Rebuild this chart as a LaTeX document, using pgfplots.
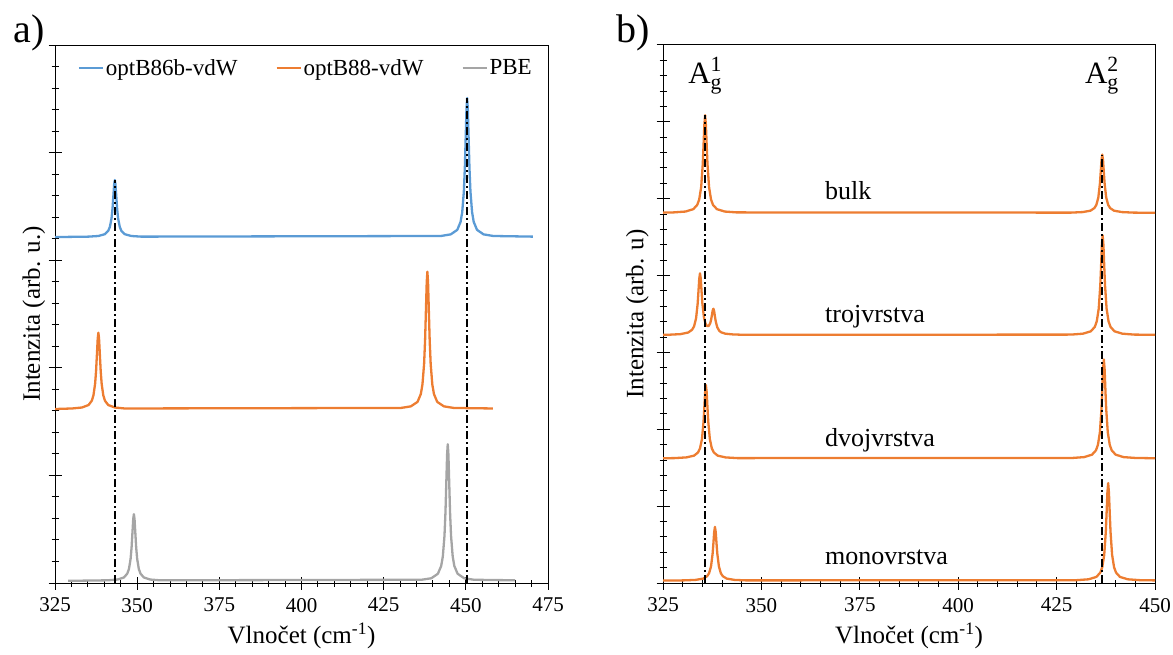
\documentclass[border=0pt]{standalone}
\usepackage{fontspec}
\setmainfont{Liberation Serif}
\usepackage{amsmath}
\usepackage{pgfplots}
\pgfplotsset{compat=1.18}
\definecolor{cblue}{HTML}{5B9BD5}
\definecolor{corange}{HTML}{ED7D31}
\definecolor{cgray}{HTML}{A5A5A5}
\pgfplotsset{
 myax/.style={
  scale only axis, width=493pt, height=538pt,
  anchor=south west,
  axis line style={line width=1pt},
  xtick distance=25, minor x tick num=4,
  ytick distance=1, minor y tick num=4,
  yticklabel={\mbox{}},
  xtick pos=bottom, ytick pos=left,
  tick align=center, major tick length=13pt, minor tick length=7pt,
  tick style={black, line width=1pt},
  ticklabel style={font=\fontsize{21}{24}\selectfont},
  xticklabel style={yshift=-5pt},
  /pgf/number format/assume math mode=true,
  /pgf/number format/1000 sep={},
  label style={font=\fontsize{25}{28}\selectfont},
  xlabel={Vlnočet (cm\textsuperscript{-1})},
  xlabel style={at={(axis description cs:0.5,-0.098)},anchor=center},
  every axis plot/.append style={line width=2.3pt, line join=round},
 },
 dd/.style={black, line width=1.9pt, dash pattern=on 8pt off 3pt on 2pt off 3pt, forget plot},
}
\begin{document}
\begin{tikzpicture}
\path[use as bounding box] (0,0) rectangle (1173pt,654pt);
\node[font=\fontsize{40}{44}\selectfont] at (29pt,621pt) {a)};
\node[font=\fontsize{40}{44}\selectfont] at (633pt,621pt) {b)};
\begin{axis}[myax, at={(55pt,71pt)}, xmin=325, xmax=475, ymin=0, ymax=5,
  ylabel={Intenzita (arb. u.)},
  ylabel style={at={(axis description cs:-0.043,0.5)},anchor=center},
  legend style={draw=none, fill=none, at={(axis description cs:0.04,0.957)}, anchor=west,
    legend columns=3, font=\fontsize{23}{26}\selectfont,
    /tikz/every even column/.append style={column sep=36pt}},
  legend image code/.code={\draw[#1, line width=2pt] (0pt,0pt) -- (24pt,0pt);},
]
\addplot[cblue] coordinates {
(325,3.215)(335.2,3.219)(338.2,3.225)(340.2,3.242)(341.2,3.273)(341.7,3.310)(342.2,3.389)(342.5,3.480)(342.8,3.615)(343.0,3.705)(343.2,3.745)(343.4,3.705)(343.6,3.615)(343.9,3.480)(344.2,3.389)(344.7,3.310)(345.2,3.273)(346.2,3.242)(348.2,3.225)(351.2,3.219)
(442.4,3.225)(445.4,3.240)(447.4,3.282)(448.4,3.356)(448.9,3.446)(449.4,3.640)(449.7,3.861)(450.0,4.189)(450.2,4.410)(450.4,4.507)(450.6,4.410)(450.8,4.189)(451.1,3.861)(451.4,3.640)(451.9,3.446)(452.4,3.356)(453.4,3.282)(455.4,3.240)(458.4,3.225)(470.4,3.219)
};
\addlegendentry{optB86b-vdW}
\addplot[corange] coordinates {
(325,1.617)(330.2,1.622)(333.2,1.631)(335.2,1.654)(336.2,1.694)(336.7,1.744)(337.2,1.850)(337.5,1.972)(337.8,2.152)(338.0,2.273)(338.2,2.326)(338.4,2.273)(338.6,2.152)(338.9,1.972)(339.2,1.850)(339.7,1.744)(340.2,1.694)(341.2,1.654)(343.2,1.631)(346.2,1.622)
(430.3,1.627)(433.3,1.642)(435.3,1.683)(436.3,1.756)(436.8,1.845)(437.3,2.037)(437.6,2.255)(437.9,2.579)(438.1,2.797)(438.3,2.893)(438.5,2.797)(438.7,2.579)(439.0,2.255)(439.3,2.037)(439.8,1.845)(440.3,1.756)(441.3,1.683)(443.3,1.642)(446.3,1.627)(458.2,1.622)
};
\addlegendentry{optB88-vdW}
\addplot[cgray] coordinates {
(329,0.020)(341,0.025)(344,0.032)(346,0.052)(347,0.088)(347.5,0.131)(348,0.224)(348.3,0.330)(348.6,0.487)(348.8,0.594)(349,0.640)(349.2,0.594)(349.4,0.487)(349.7,0.330)(350,0.224)(350.5,0.131)(351,0.088)(352,0.052)(354,0.032)(357,0.025)
(436.5,0.030)(439.5,0.044)(441.5,0.086)(442.5,0.158)(443,0.247)(443.5,0.438)(443.8,0.655)(444.1,0.978)(444.3,1.195)(444.5,1.290)(444.7,1.195)(444.9,0.978)(445.2,0.655)(445.5,0.438)(446,0.247)(446.5,0.158)(447.5,0.086)(449.5,0.044)(452.5,0.030)(465,0.025)
};
\addlegendentry{PBE}
\addplot[dd] coordinates {(343.2,0)(343.2,3.745)};
\addplot[dd] coordinates {(450.4,0)(450.4,4.507)};
\end{axis}
\begin{axis}[myax, at={(663pt,71pt)}, width=492pt, xmin=325, xmax=450, ymin=0, ymax=7,
  ylabel={Intenzita (arb. u)},
  ylabel style={at={(axis description cs:-0.052,0.5)},anchor=center},
]
\addplot[corange] coordinates {
(325,4.819)(327.7,4.822)(330.7,4.833)(332.7,4.864)(333.7,4.920)(334.2,4.990)(334.7,5.152)(335.1,5.451)(335.3,5.695)(335.5,5.959)(335.7,6.086)(335.9,5.959)(336.1,5.695)(336.3,5.451)(336.7,5.152)(337.2,4.990)(337.7,4.920)(338.7,4.864)(340.7,4.833)(343.7,4.822)
(428.6,4.819)(431.6,4.826)(433.6,4.844)(434.6,4.878)(435.1,4.920)(435.6,5.016)(436.0,5.195)(436.2,5.341)(436.4,5.499)(436.6,5.575)(436.8,5.499)(437.0,5.341)(437.2,5.195)(437.6,5.016)(438.1,4.920)(438.6,4.878)(439.6,4.844)(441.6,4.826)(444.6,4.819)(450,4.817)
};
\addplot[corange] coordinates {
(325,3.228)(326.4,3.230)(329.4,3.238)(331.4,3.259)(332.4,3.295)(332.9,3.340)(333.4,3.443)(333.8,3.632)(334.0,3.787)(334.2,3.954)(334.4,4.030)(334.6,3.956)(334.8,3.791)(335.0,3.639)(335.4,3.456)(335.8,3.375)(336.2,3.344)(336.6,3.344)(337.0,3.380)(337.2,3.420)(337.4,3.477)(337.6,3.540)(337.8,3.569)(338.0,3.535)(338.2,3.465)(338.4,3.403)(338.8,3.325)(339.3,3.281)(339.8,3.261)(340.8,3.244)(342.8,3.234)(345.8,3.229)
(428.7,3.232)(431.7,3.244)(433.7,3.275)(434.7,3.332)(435.2,3.404)(435.7,3.570)(436.1,3.875)(436.3,4.125)(436.5,4.395)(436.7,4.525)(436.9,4.395)(437.1,4.125)(437.3,3.875)(437.7,3.570)(438.2,3.404)(438.7,3.332)(439.7,3.275)(441.7,3.244)(444.7,3.232)(450,3.229)
};
\addplot[corange] coordinates {
(325,1.623)(327.9,1.625)(330.9,1.634)(332.9,1.657)(333.9,1.699)(334.4,1.752)(334.9,1.873)(335.3,2.098)(335.5,2.281)(335.7,2.480)(335.9,2.575)(336.1,2.480)(336.3,2.281)(336.5,2.098)(336.9,1.873)(337.4,1.752)(337.9,1.699)(338.9,1.657)(340.9,1.634)(343.9,1.625)
(429,1.627)(432,1.638)(434,1.670)(435,1.726)(435.5,1.798)(436,1.962)(436.4,2.265)(436.6,2.512)(436.8,2.780)(437,2.909)(437.2,2.780)(437.4,2.512)(437.6,2.265)(438,1.962)(438.5,1.798)(439,1.726)(440,1.670)(442,1.638)(445,1.627)(450,1.623)
};
\addplot[corange] coordinates {
(325,0.032)(330.2,0.034)(333.2,0.040)(335.2,0.057)(336.2,0.088)(336.7,0.127)(337.2,0.216)(337.6,0.380)(337.8,0.514)(338.0,0.660)(338.2,0.730)(338.4,0.660)(338.6,0.514)(338.8,0.380)(339.2,0.216)(339.7,0.127)(340.2,0.088)(341.2,0.057)(343.2,0.040)(346.2,0.034)
(430.1,0.037)(433.1,0.048)(435.1,0.079)(436.1,0.135)(436.6,0.205)(437.1,0.367)(437.5,0.665)(437.7,0.909)(437.9,1.173)(438.1,1.300)(438.3,1.173)(438.5,0.909)(438.7,0.665)(439.1,0.367)(439.6,0.205)(440.1,0.135)(441.1,0.079)(443.1,0.048)(446.1,0.037)(450,0.034)
};
\addplot[dd] coordinates {(335.7,0)(335.7,6.086)};
\addplot[dd] coordinates {(436.6,0)(436.6,5.575)};
\node[anchor=west, font=\fontsize{26}{30}\selectfont] at (axis cs:365.3,5.11) {bulk};
\node[anchor=west, font=\fontsize{26}{30}\selectfont] at (axis cs:365.3,3.46) {trojvrstva};
\node[anchor=west, font=\fontsize{26}{30}\selectfont] at (axis cs:365.3,1.86) {dvojvrstva};
\node[anchor=west, font=\fontsize{26}{30}\selectfont] at (axis cs:365.3,0.34) {monovrstva};
\node[font=\fontsize{31}{34}\selectfont] at (axis cs:335.7,6.6) {$\text{A}_{\text{g}}^{\text{1}}$};
\node[font=\fontsize{31}{34}\selectfont] at (axis cs:436.5,6.6) {$\text{A}_{\text{g}}^{\text{2}}$};
\end{axis}
\end{tikzpicture}
\end{document}
